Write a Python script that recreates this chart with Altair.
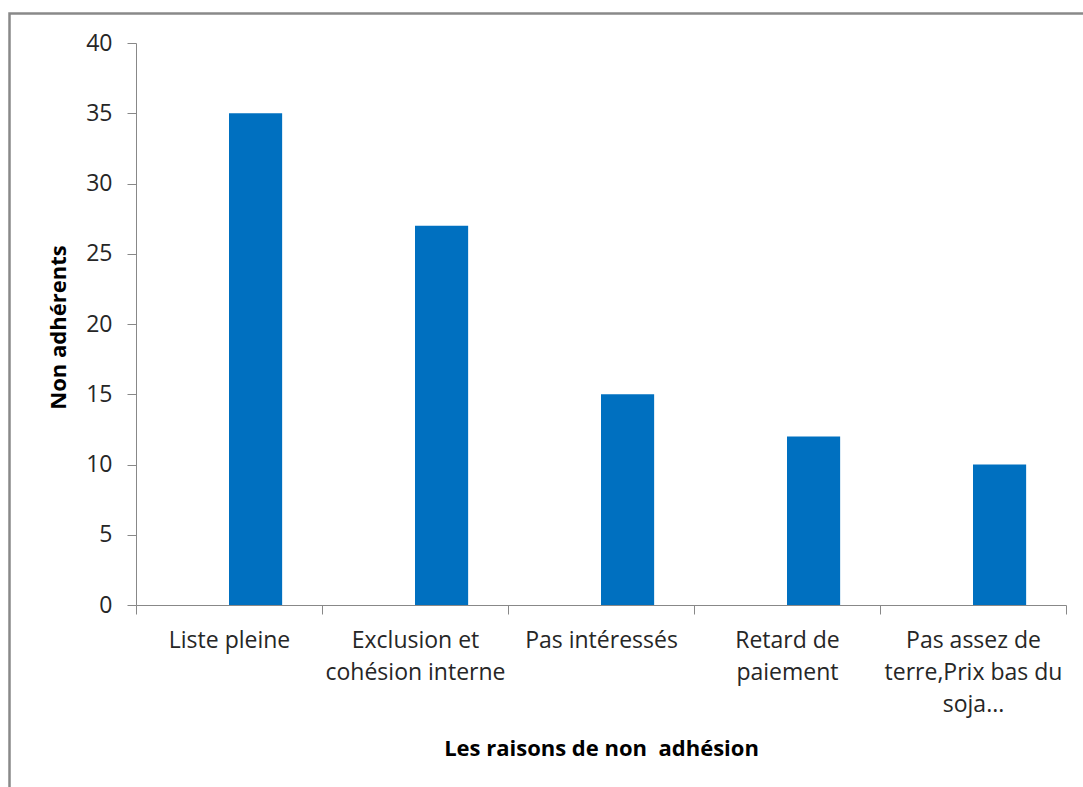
import altair as alt
import pandas as pd

# Reasons given for not joining, and the number of non-members citing each
raisons = [
    "Liste pleine",
    "Exclusion et\ncohésion interne",
    "Pas intéressés",
    "Retard de\npaiement",
    "Pas assez de\nterre,Prix bas du\nsoja...",
]
non_adherents = [35, 27, 15, 12, 10]
# Excel-style layout: an empty first series slot, the data in the second one
series_slots = ["vide", "Non adhérents"]
y_ticks = [0, 5, 10, 15, 20, 25, 30, 35, 40]

df = pd.DataFrame({
    "raison": raisons,
    "valeur": non_adherents,
    "serie": series_slots[1],
})

W, H = 930, 562
FONT = "Open Sans"
GRAY = "#888888"

bars = alt.Chart(df).mark_bar(color="#0070C0").encode(
    x=alt.X(
        "raison:N",
        sort=raisons,
        scale=alt.Scale(paddingInner=0, paddingOuter=0),
        axis=alt.Axis(
            title="Les raisons de non\u00a0 adhésion",
            labelAngle=0,
            labelExpr="split(datum.label, '\\n')",
            labelLineHeight=32,
            labelBaseline="top",
            labelPadding=15,
            labelFontSize=23,
            labelColor="#262626",
            labelLimit=0,
            tickBand="extent",
            tickSize=9,
            tickColor=GRAY,
            domainColor=GRAY,
            grid=False,
            titleFontSize=22,
            titleFontWeight="bold",
            titleColor="#000000",
            titleX=W / 2,
            titleY=150,
            titleBaseline="alphabetic",
        ),
    ),
    xOffset=alt.XOffset(
        "serie:N",
        scale=alt.Scale(domain=series_slots, paddingInner=0, paddingOuter=0.75),
    ),
    y=alt.Y(
        "valeur:Q",
        scale=alt.Scale(domain=[0, 40], nice=False),
        axis=alt.Axis(
            title="Non adhérents",
            values=y_ticks,
            grid=False,
            labelFontSize=23,
            labelColor="#262626",
            labelPadding=15,
            tickSize=9,
            tickColor=GRAY,
            domainColor=GRAY,
            titleFontSize=22,
            titleFontWeight="bold",
            titleColor="#000000",
            titleX=-78,
            titleY=H / 2 + 3,
            titleBaseline="middle",
        ),
    ),
)

# Outer chart frame
frame = alt.Chart(alt.Data(values=[{}])).mark_rect(
    fill="transparent", stroke="#898989", strokeWidth=2.5, clip=False
).encode(
    x=alt.value(-126.5),
    y=alt.value(-29.5),
    x2=alt.value(W + 40),
    y2=alt.value(H + 240),
)

chart = alt.layer(frame, bars).properties(
    width=W,
    height=H,
    autosize=alt.AutoSizeParams(type="none"),
    padding={"left": 136, "top": 43, "right": 17, "bottom": 182},
    background="#ffffff",
    view=alt.ViewBackground(strokeWidth=0, strokeOpacity=0),
).configure_view(strokeWidth=0, strokeOpacity=0).configure(font=FONT)

chart.save("out.html", embed_options={"renderer": "svg", "actions": False})
